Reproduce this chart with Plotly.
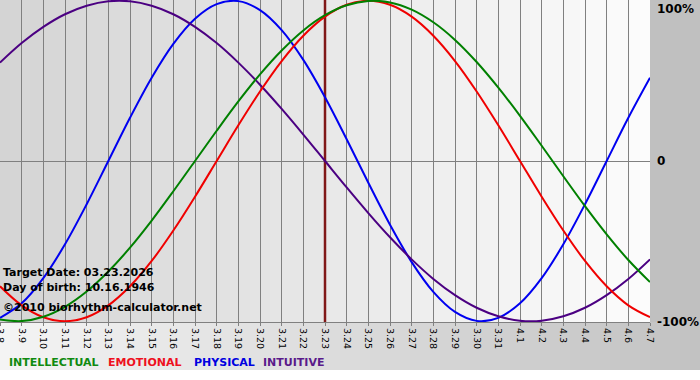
import plotly.graph_objects as go

# Day labels (month.day)
days = ["3.8", "3.9", "3.10", "3.11", "3.12", "3.13", "3.14", "3.15", "3.16", "3.17",
        "3.18", "3.19", "3.20", "3.21", "3.22", "3.23", "3.24", "3.25", "3.26", "3.27",
        "3.28", "3.29", "3.30", "3.31", "4.1", "4.2", "4.3", "4.4", "4.5", "4.6", "4.7"]

# Cycle values (fraction of 100%) read per day
physical = [-0.979, -0.888, -0.731, -0.520, -0.270, 0.000, 0.270, 0.520, 0.731, 0.888,
            0.979, 0.998, 0.942, 0.817, 0.631, 0.398, 0.136, -0.136, -0.398, -0.631,
            -0.817, -0.942, -0.998, -0.979, -0.888, -0.731, -0.520, -0.270, 0.000, 0.270, 0.520]
emotional = [-0.782, -0.901, -0.975, -1.000, -0.975, -0.901, -0.782, -0.624, -0.434, -0.223,
             0.000, 0.223, 0.434, 0.624, 0.782, 0.901, 0.975, 1.000, 0.975, 0.901,
             0.782, 0.624, 0.434, 0.223, 0.000, -0.223, -0.434, -0.624, -0.782, -0.901, -0.975]
intellectual = [-0.990, -0.999, -0.972, -0.910, -0.815, -0.690, -0.541, -0.372, -0.189, 0.000,
                0.189, 0.372, 0.541, 0.690, 0.815, 0.910, 0.972, 0.999, 0.990, 0.945,
                0.866, 0.756, 0.618, 0.458, 0.282, 0.095, -0.095, -0.282, -0.458, -0.618, -0.756]
intuitive = [0.614, 0.736, 0.837, 0.916, 0.969, 0.997, 0.997, 0.969, 0.916, 0.837,
             0.736, 0.614, 0.476, 0.325, 0.165, 0.000, -0.165, -0.325, -0.476, -0.614,
             -0.736, -0.837, -0.916, -0.969, -0.997, -0.997, -0.969, -0.916, -0.837, -0.736, -0.614]

target_day = "3.23"
y_ticks = ["100%", "0", "-100%"]
legend_names = ["INTELLECTUAL", "EMOTIONAL", "PHYSICAL", "INTUITIVE"]
info_lines = ["Target Date: 03.23.2026", "Day of birth: 10.16.1946", "©2010 biorhythm-calculator.net"]

W, H = 700, 380
PL, PR, PT, PB = 0, 650, 0, 322  # plot area in px


def px_x(p):
    return (p - PL) / (PR - PL)


def px_y(p):
    return (PB - p) / (PB - PT)


fig = go.Figure()

# target date marker
fig.add_trace(go.Scatter(x=[target_day, target_day], y=[-1.2, 1.2], mode="lines",
                         line=dict(color="#801818", width=2.5), hoverinfo="skip"))

series = [
    ("PHYSICAL", physical, "#0000f0"),
    ("INTUITIVE", intuitive, "#4b0082"),
    ("EMOTIONAL", emotional, "#f00000"),
    ("INTELLECTUAL", intellectual, "#008000"),
]
for name, vals, col in series:
    fig.add_trace(go.Scatter(x=days, y=vals, mode="lines", name=name,
                             line=dict(color=col, width=2, shape="spline", smoothing=1)))

shapes = []
N = 65
for i in range(N):
    g = round(212 + (252 - 212) * (i + 0.5) / N)
    shapes.append(dict(type="rect", xref="paper", yref="paper",
                       x0=i / N, x1=(i + 1) / N + 0.002, y0=0, y1=1,
                       fillcolor=f"rgb({g},{g},{g})", line_width=0, layer="below"))
N2 = 70
for i in range(N2):
    g = round(244 + (194 - 244) * (i + 0.5) / N2)
    shapes.append(dict(type="rect", xref="paper", yref="paper",
                       x0=px_x(i * 10), x1=px_x((i + 1) * 10 + 0.5), y0=px_y(370), y1=0,
                       fillcolor=f"rgb({g},{g},{g})", line_width=0, layer="below"))
shapes.append(dict(type="rect", xref="paper", yref="paper", x0=1, x1=px_x(700), y0=0, y1=1,
                   fillcolor="rgb(192,192,192)", line_width=0, layer="below"))

bold = dict(family="DejaVu Sans", size=11, color="#000000", weight="bold")
annotations = []
for txt, py in zip(info_lines, [272, 287, 307]):
    annotations.append(dict(text=txt, xref="paper", yref="paper", x=px_x(1), y=px_y(py),
                            xanchor="left", yanchor="middle", showarrow=False, font=bold))
for txt, py in zip(y_ticks, [9, 161, 322]):
    annotations.append(dict(text=txt, xref="paper", yref="paper", x=px_x(655), y=px_y(py),
                            xanchor="left", yanchor="middle", showarrow=False,
                            font=dict(family="DejaVu Sans", size=12, color="#000000", weight="bold")))
leg_cols = ["#108a10", "#ee1020", "#0000e0", "#5a1a8a"]
for txt, col, px in zip(legend_names, leg_cols, [7, 106, 192, 261]):
    annotations.append(dict(text=txt, xref="paper", yref="paper", x=px_x(px), y=px_y(362),
                            xanchor="left", yanchor="middle", showarrow=False,
                            font=dict(family="DejaVu Sans", size=11, color=col, weight="bold")))

fig.update_layout(
    width=W, height=H,
    margin=dict(l=PL, r=W - PR, t=PT, b=H - PB, pad=0, autoexpand=False),
    paper_bgcolor="#ffffff", plot_bgcolor="rgba(0,0,0,0)",
    showlegend=False,
    shapes=shapes,
    annotations=annotations,
    xaxis=dict(type="category", categoryorder="array", categoryarray=days,
               range=[0, 30], showgrid=True, gridcolor="#808080", gridwidth=1,
               dtick=1, tickangle=90, ticks="outside", ticklen=3, tickcolor="#808080",
               showline=True, linecolor="#808080", linewidth=1, automargin=False,
               tickfont=dict(family="DejaVu Sans", size=9.5, color="#000000"),
               zeroline=False, fixedrange=True),
    yaxis=dict(range=[-1.005, 1.005], showgrid=False, zeroline=True, zerolinecolor="#808080",
               zerolinewidth=1, showticklabels=False, ticks="", automargin=False, fixedrange=True),
)

fig.write_html("out.html", config={"displayModeBar": False},
               post_script="document.body.style.margin='0px';document.body.style.padding='0px';")
